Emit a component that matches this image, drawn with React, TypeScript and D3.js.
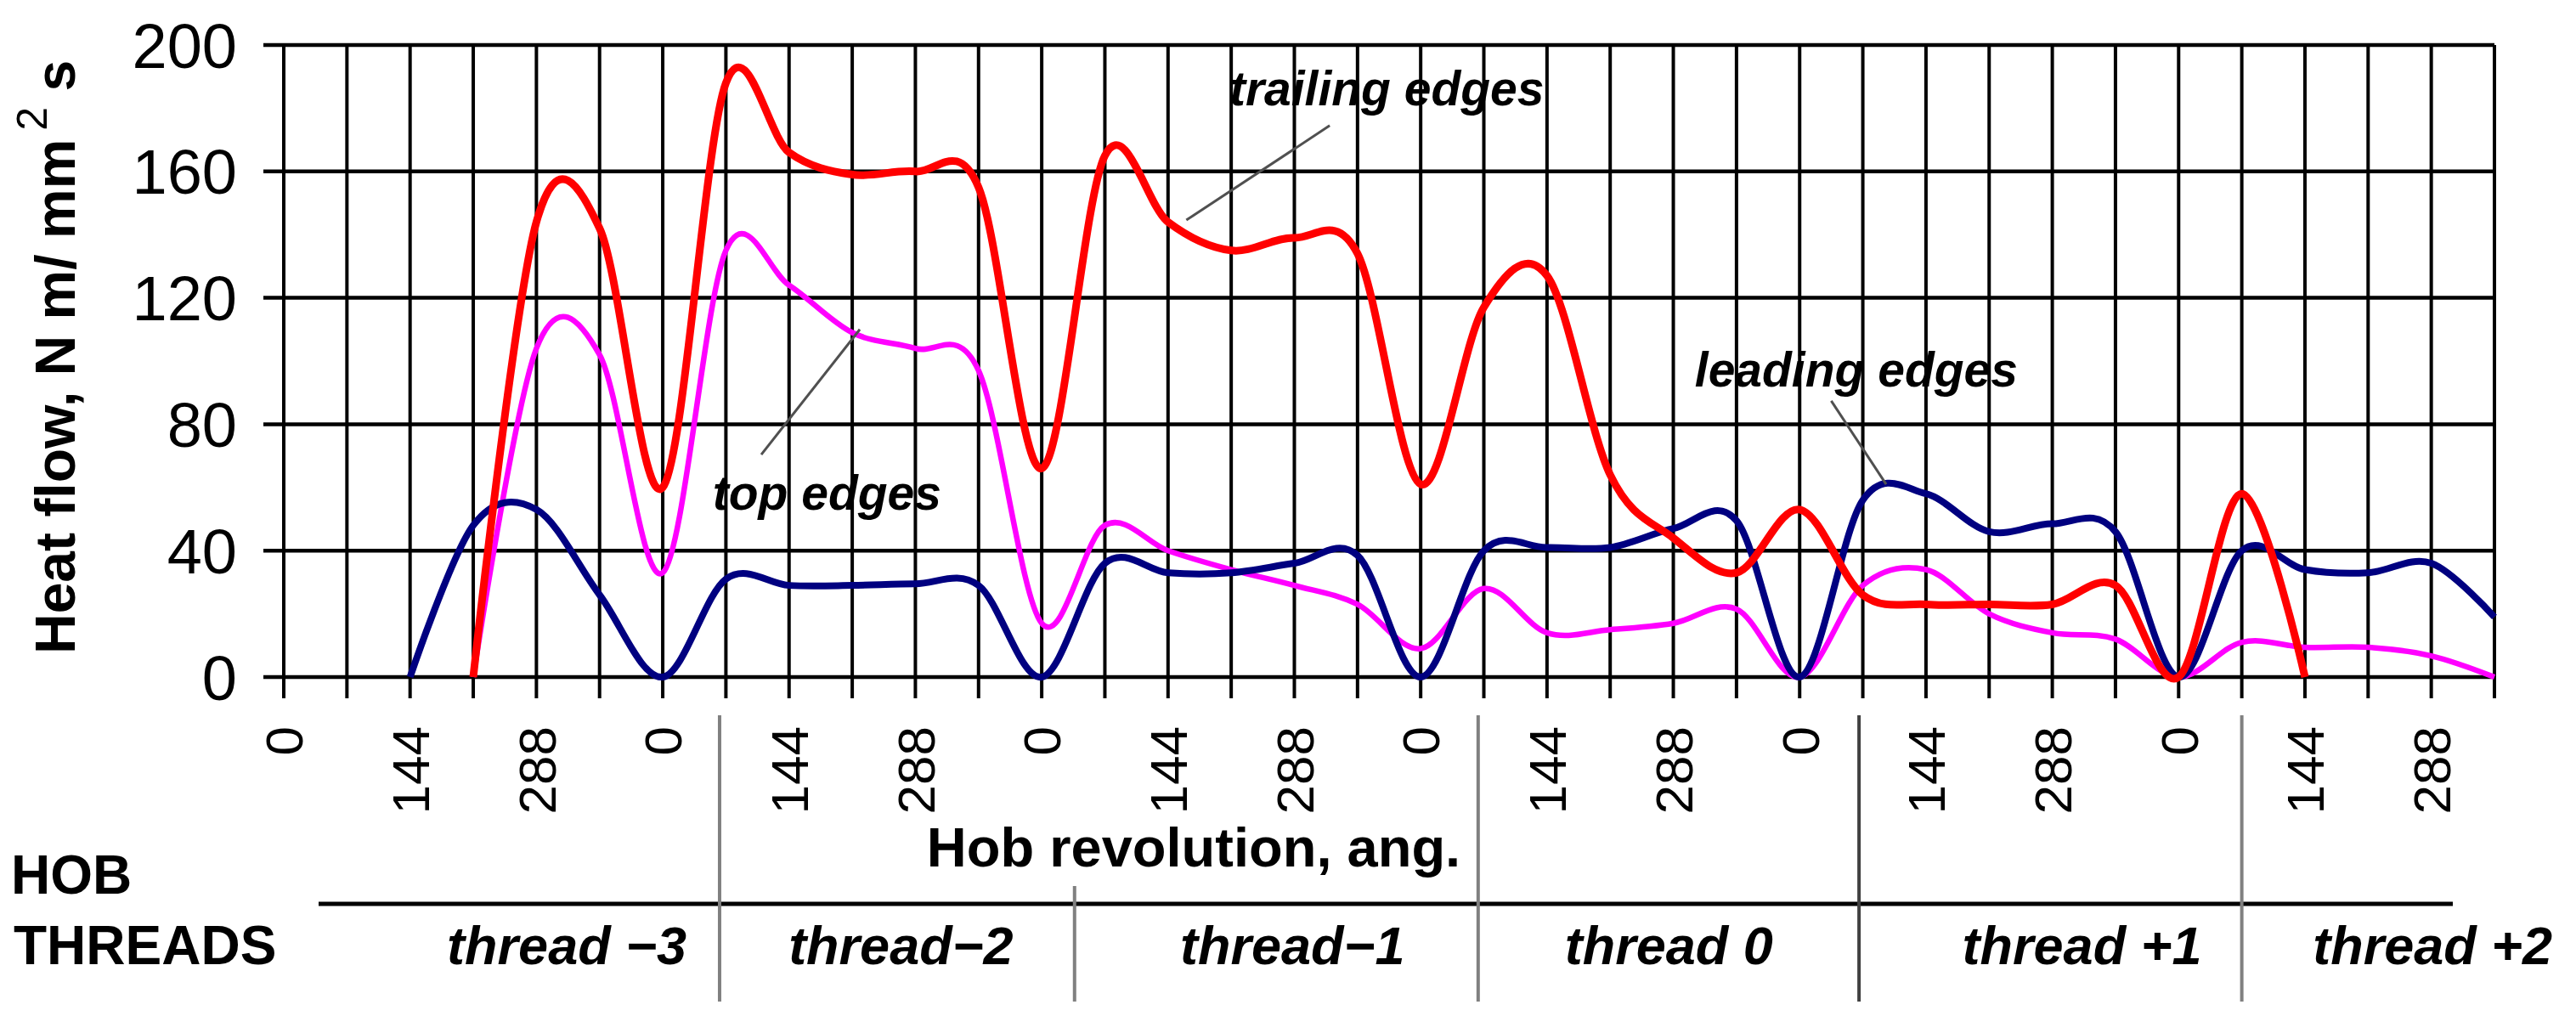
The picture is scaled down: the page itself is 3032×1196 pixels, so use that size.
import * as d3 from 'd3';

const W = 3032;
const H = 1196;

// one gridline every 72 deg of hob revolution, 36 gridlines in all
const steps = d3.range(36);
const angleLabels = ['0', '144', '288', '0', '144', '288', '0', '144', '288', '0', '144', '288', '0', '144', '288', '0', '144', '288'];
const yTicks = [0, 40, 80, 120, 160, 200];

// heat flow per edge, N m/ mm2 s, read at each gridline
const leading = [null, null, 0, 48, 53, 26, 0, 31, 29, 29, 29.5, 29, 0, 36, 33, 33, 36, 38.5, 0, 40, 41, 41, 47, 49.5, 0, 56, 58, 46, 48.5, 46, 0, 40, 34, 33, 36, 19];
const trailing = [null, null, null, 0, 144, 142, 60, 188, 166, 159, 160, 155, 66, 165, 144, 135, 139, 134, 61, 117, 127, 64, 44, 33, 53, 26, 23, 23, 23, 29, 0, 58, 0, null, null, null];
const topEdges = [null, null, null, 0, 104, 102, 33, 135, 124, 109, 104, 97, 17, 48, 40, 34, 29, 23, 9, 28, 14, 15, 17, 21.5, 0, 29, 34, 20, 14, 12, 0, 11, 9.4, 9.4, 6.7, 0];

const threadNames = ['thread \u22123', 'thread\u22122', 'thread\u22121', 'thread 0', 'thread +1', 'thread +2'];
const threadCenters = [4.48, 9.77, 15.97, 21.93, 28.47, 34.02];
const threadBounds = [6.9, 12.52, 18.91, 24.94, 31.0];

const font = '"Liberation Sans", Arial, sans-serif';

function HeatFlowChart() {
  const x = d3.scaleLinear([0, 35], [334, 2936]);
  const y = d3.scaleLinear([0, 200], [797, 53]);

  const line = d3
    .line<number | null>()
    .defined((d) => d !== null)
    .x((d, i) => x(i))
    .y((d) => y(d as number))
    .curve(d3.curveCardinal.tension(0));

  const series = [
    { data: topEdges, color: '#ff00ff', width: 6.5 },
    { data: leading, color: '#000080', width: 8 },
    { data: trailing, color: '#ff0000', width: 9 },
  ];

  const notes = [
    { text: 'trailing edges', at: [14.97, 181], from: [16.56, 174.5], to: [14.29, 144.6] },
    { text: 'top edges', at: [6.79, 53], from: [7.56, 70.4], to: [9.12, 110] },
    { text: 'leading edges', at: [22.34, 92], from: [24.5, 87.4], to: [25.37, 61] },
  ];

  return (
    <svg width={W} height={H} style={{ position: 'absolute', left: 0, top: 0, background: '#fff' }} fontFamily={font}>
      {/* grid */}
      <g stroke="#000">
        {yTicks.map((t) => (
          <line key={t} x1={x(0) - 24} x2={x(35)} y1={y(t)} y2={y(t)} strokeWidth={4.5} />
        ))}
        {steps.map((k) => (
          <line key={k} x1={x(k)} x2={x(k)} y1={y(200)} y2={y(0) + 25} strokeWidth={4} />
        ))}
      </g>

      {/* y tick labels */}
      {yTicks.map((t) => (
        <text key={t} x={279} y={y(t)} dy="0.36em" textAnchor="end" fontSize={74}>
          {t}
        </text>
      ))}

      {/* x tick labels */}
      {angleLabels.map((s, i) => (
        <text
          key={i}
          transform={`translate(${x(i * 2)},855) rotate(-90)`}
          textAnchor="end"
          dy="0.36em"
          fontSize={62}
        >
          {s}
        </text>
      ))}

      {/* y axis title */}
      <text transform="translate(88,770) rotate(-90)" fontSize={66} fontWeight="bold">
        Heat flow, N m/ mm
        <tspan fontSize={50} fontWeight="normal" dx={10} dy={-33}>2</tspan>
        <tspan dy={33}> s</tspan>
      </text>

      {/* curves */}
      {series.map((s, i) => (
        <path key={i} d={line(s.data) ?? undefined} fill="none" stroke={s.color} strokeWidth={s.width} strokeLinejoin="round" />
      ))}

      {/* annotations */}
      {notes.map((n) => (
        <g key={n.text}>
          <line x1={x(n.from[0])} y1={y(n.from[1])} x2={x(n.to[0])} y2={y(n.to[1])} stroke="#505050" strokeWidth={3} />
          <text x={x(n.at[0])} y={y(n.at[1])} fontSize={57} fontStyle="italic" fontWeight="bold">
            {n.text}
          </text>
        </g>
      ))}

      {/* lower band: axis title and hob threads */}
      <text x={1405} y={1020} textAnchor="middle" fontSize={65} fontWeight="bold">
        Hob revolution, ang.
      </text>
      <text x={13} y={1052} fontSize={64} fontWeight="bold">HOB</text>
      <text x={16} y={1135} fontSize={64} fontWeight="bold">THREADS</text>
      <line x1={375} x2={2887} y1={1064} y2={1064} stroke="#000" strokeWidth={5} />
      {threadBounds.map((b, i) => (
        <line
          key={i}
          x1={x(b)}
          x2={x(b)}
          y1={i === 1 ? 1043 : 842}
          y2={1179}
          stroke={i === 3 ? '#404040' : '#808080'}
          strokeWidth={4}
        />
      ))}
      {threadNames.map((t, i) => (
        <text key={t} x={x(threadCenters[i])} y={1135} textAnchor="middle" fontSize={63} fontStyle="italic" fontWeight="bold">
          {t}
        </text>
      ))}
    </svg>
  );
}

export default function App() {
  return <HeatFlowChart />;
}
